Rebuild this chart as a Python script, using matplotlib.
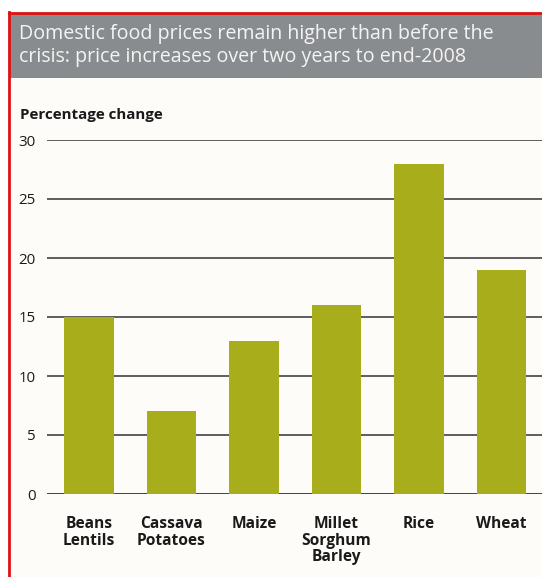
import matplotlib.pyplot as plt
from matplotlib.patches import Rectangle
from matplotlib.lines import Line2D

categories = ["Beans\nLentils", "Cassava\nPotatoes", "Maize", "Millet\nSorghum\nBarley", "Rice", "Wheat"]
values = [15, 7, 13, 16, 28, 19]
yticks = [0, 5, 10, 15, 20, 25, 30]

W, H = 542, 577
fig = plt.figure(figsize=(W / 100, H / 100), dpi=100)
fig.patch.set_facecolor("white")

# panel background + red frame
fig.add_artist(Rectangle((9 / W, 0), 1, 1 - 13 / H, transform=fig.transFigure,
                         facecolor="#fdfcf9", edgecolor="none", zorder=0))
fig.add_artist(Line2D([8.5 / W, 8.5 / W], [0, 1 - 12 / H], transform=fig.transFigure,
                      color="#e01010", lw=2))
fig.add_artist(Line2D([8.5 / W, 1], [1 - 12.5 / H, 1 - 12.5 / H], transform=fig.transFigure,
                      color="#e01010", lw=2))

# grey title band
fig.add_artist(Rectangle((10 / W, 1 - 78 / H), 1, 64 / H, transform=fig.transFigure,
                         facecolor="#898c8f", edgecolor="none", zorder=1))
fig.text(19 / W, 1 - 45.5 / H, "Domestic food prices remain higher than before the\ncrisis: price increases over two years to end-2008",
         color="#f4f4f4", fontsize=14.1, family="Open Sans", va="center", ha="left",
         linespacing=1.2, zorder=2)

fig.text(20 / W, 1 - 115 / H, "Percentage change", fontsize=10.9, fontweight="bold",
         family="Open Sans", va="center", ha="left", color="#1a1a1a")

ax = fig.add_axes([47 / W, 1 - 494 / H, 1 - 47 / W, (494 - 140) / H])
ax.set_facecolor("none")
x = range(len(values))
ax.bar(x, values, width=0.6, color="#a7ad1b", zorder=3)
ax.set_xlim(-0.509, 5.49)
ax.set_ylim(0, 30)
ax.set_yticks(yticks)
for t in yticks:
    ax.axhline(t, color="#111111" if t == 0 else "#333333", lw=1.1, zorder=2)
for s in ax.spines.values():
    s.set_visible(False)
ax.tick_params(axis="y", length=0, pad=8, labelsize=10.8, labelcolor="#1a1a1a")
ax.tick_params(axis="x", length=0, pad=16)
ax.set_yticklabels([str(t) for t in yticks], family="Open Sans")
ax.set_xticks(list(x))
ax.set_xticklabels(categories, fontsize=11.2, fontweight="bold", family="Open Sans",
                   linespacing=1.03, color="#1a1a1a")

fig.savefig("out.png", dpi=100)
